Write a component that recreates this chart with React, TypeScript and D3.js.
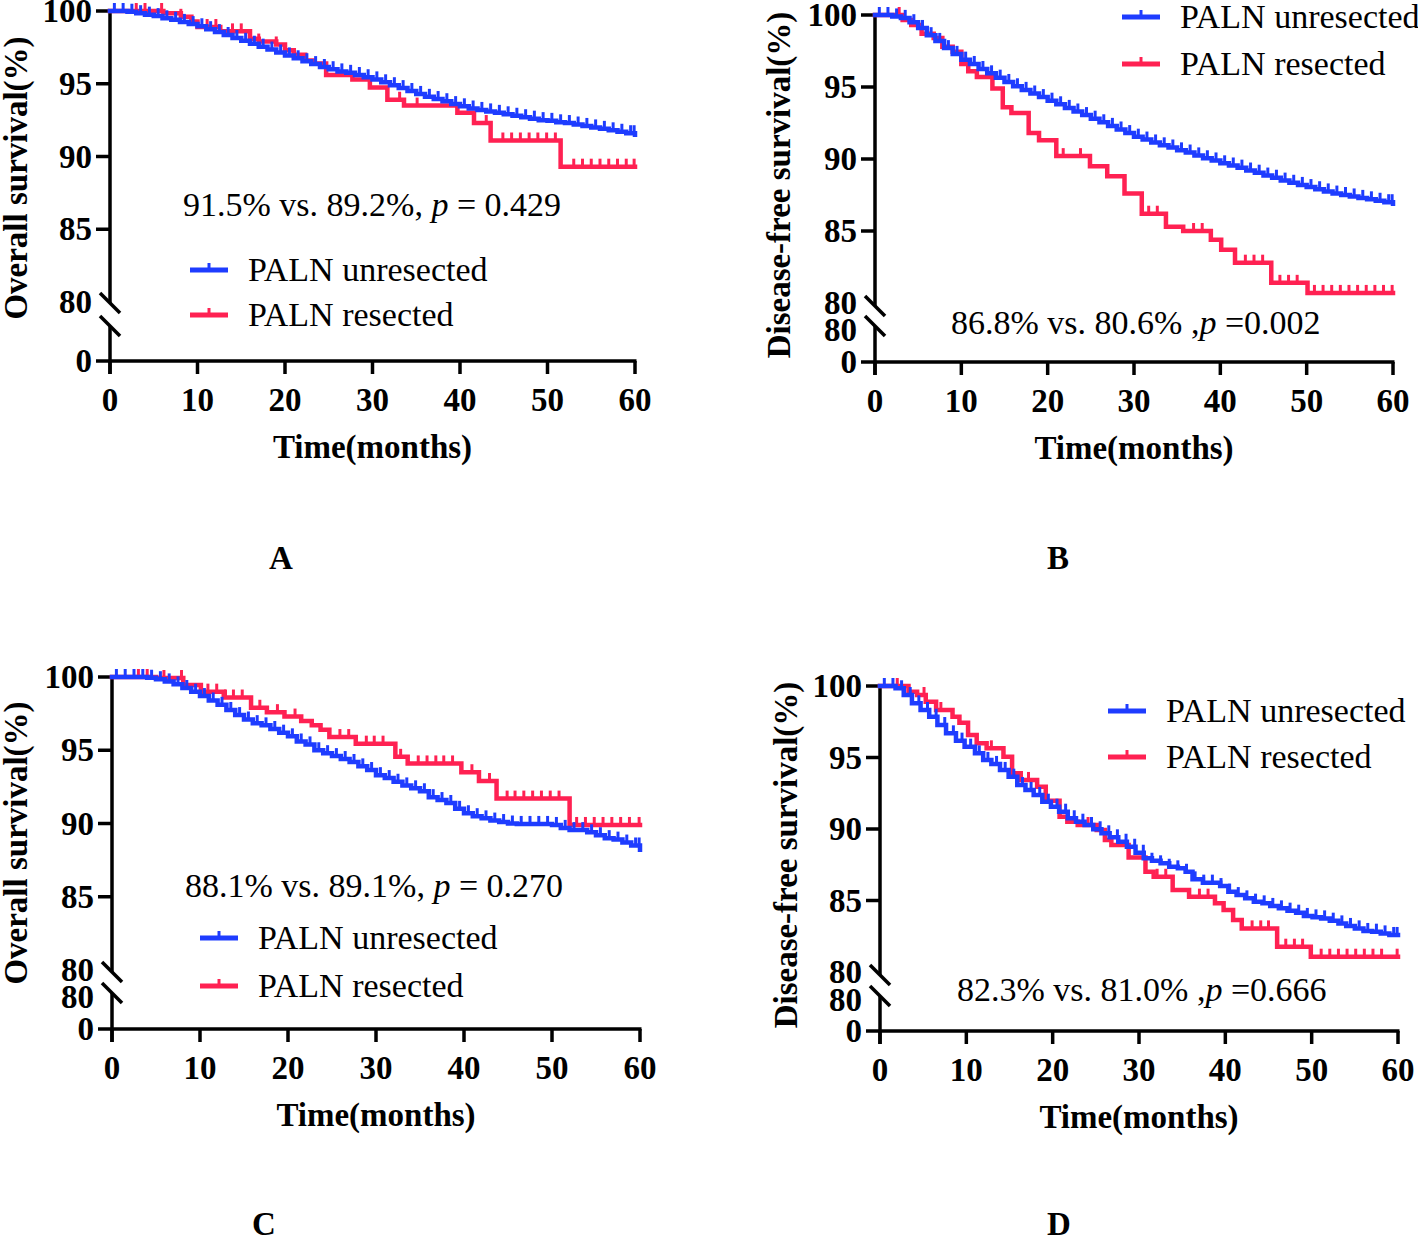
import React from "react";
import * as d3 from "d3";

// ---------- data ----------
const months = [0,1,2,3,4,5,6,7,8,9,10,11,12,13,14,15,16,17,18,19,20,21,22,23,24,25,26,27,28,29,30,31,32,33,34,35,36,37,38,39,40,41,42,43,44,45,46,47,48,49,50,51,52,53,54,55,56,57,58,59,60];
const monthlyCensor = [0.5,1.5,2.5,3.5,4.5,5.5,6.5,7.5,8.5,9.5,10.5,11.5,12.5,13.5,14.5,15.5,16.5,17.5,18.5,19.5,20.5,21.5,22.5,23.5,24.5,25.5,26.5,27.5,28.5,29.5,30.5,31.5,32.5,33.5,34.5,35.5,36.5,37.5,38.5,39.5,40.5,41.5,42.5,43.5,44.5,45.5,46.5,47.5,48.5,49.5,50.5,51.5,52.5,53.5,54.5,55.5,56.5,57.5,58.5,59.5,59.9];
const xTicks = [0,10,20,30,40,50,60];
const yTicksUpper = [100,95,90,85];

// Panel A — overall survival
const blueA = [100,100,99.95,99.85,99.75,99.65,99.5,99.4,99.25,99.1,
  98.95,98.75,98.55,98.35,98.15,97.95,97.75,97.55,97.35,97.15,
  96.95,96.75,96.55,96.35,96.15,96.0,95.85,95.75,95.6,95.45,
  95.3,95.1,94.9,94.7,94.5,94.3,94.1,93.95,93.8,93.6,
  93.45,93.3,93.2,93.1,93.0,92.9,92.8,92.7,92.6,92.5,
  92.45,92.35,92.3,92.2,92.1,92.0,91.9,91.8,91.7,91.6,91.5];
const redATimes = [0,6.1,8.1,9.3,10,12.6,16,17,19,20,21,22.3,23.3,24.7,27.7,29.7,31.7,33.6,39.7,41.6,43.5,51.5];
const redAValues = [100,99.84,99.6,99.27,98.9,98.6,98.1,97.9,97.7,97.3,97.0,96.6,96.4,95.6,95.3,94.75,93.9,93.5,93.0,92.3,91.1,89.3];
const redACensor = [3,4,5.9,8.1,11.1,12.1,14,15,17,19,33.1,35.1,43,44.9,45.9,46.9,47.9,48.9,49.9,50.9,53,54,55,56,57,58,59,59.9];

// Panel B — disease-free survival
const blueB = [100,100,99.9,99.8,99.5,99.1,98.6,98.2,97.7,97.3,
  96.9,96.6,96.25,95.95,95.65,95.35,95.05,94.8,94.55,94.3,
  94.05,93.8,93.55,93.3,93.05,92.8,92.55,92.3,92.05,91.8,
  91.55,91.35,91.15,90.95,90.8,90.6,90.45,90.25,90.05,89.9,
  89.7,89.55,89.4,89.2,89.05,88.85,88.7,88.5,88.35,88.2,
  88.05,87.9,87.75,87.6,87.5,87.4,87.3,87.2,87.1,87.0,86.9];
const redBTimes = [0,3.2,4.2,5.4,6.8,7.8,9.0,10.0,10.8,11.8,13.6,14.8,15.8,17.8,19.0,21.0,24.9,26.9,28.9,30.9,33.7,35.7,38.9,40.1,41.7,45.9,50.1];
const redBValues = [100,99.65,99.3,98.7,98.4,97.8,97.45,96.6,96.1,95.7,94.9,93.6,93.2,91.8,91.3,90.2,89.5,88.8,87.6,86.2,85.3,85.0,84.4,83.7,82.8,81.4,80.7];
const redBCensor = [2.8,21.8,23.8,26.9,31.7,32.7,36.9,37.9,42.9,43.9,44.9,46.9,47.9,48.9,50.9,51.9,52.9,53.9,54.9,55.9,56.9,57.9,58.9,59.9];

// Panel C — overall survival
const blueC = [100,100,100,100,99.95,99.85,99.7,99.5,99.25,99.0,
  98.7,98.4,98.1,97.75,97.4,97.1,96.85,96.7,96.45,96.2,
  95.95,95.6,95.4,95.0,94.8,94.6,94.4,94.2,93.9,93.65,
  93.3,93.1,92.85,92.6,92.4,92.2,91.8,91.6,91.4,91.0,
  90.7,90.5,90.35,90.2,90.1,90.0,89.97,89.97,89.97,89.97,
  89.9,89.7,89.55,89.55,89.4,89.2,89.0,88.9,88.7,88.5,88.2];
const redCTimes = [0,5.0,8.1,10.1,12.7,15.8,17.6,19.6,21.5,22.7,23.7,24.7,27.7,32.2,33.6,39.7,41.7,43.7,52.0];
const redCValues = [100,99.93,99.45,99.0,98.6,97.9,97.6,97.3,97.0,96.7,96.4,95.9,95.45,94.55,94.1,93.5,92.9,91.7,89.9];
const redCCensor = [3,4,5.9,7.9,10.9,11.9,12.9,13.8,14.8,16.8,18.8,20.8,25.9,26.9,28.9,29.8,30.8,32.8,34.8,35.8,36.8,37.7,38.7,40.9,42.9,44.9,45.8,46.8,47.8,48.8,49.8,50.8,52.8,53.8,54.8,55.8,56.8,57.8,58.8,59.9];

// Panel D — disease-free survival
const blueDTimes = [0,1.8,2.75,3.7,4.7,5.7,6.65,7.65,8.8,9.8,11.0,11.95,12.9,13.9,14.9,15.9,16.85,17.8,18.8,19.8,20.75,21.75,22.7,23.7,24.7,25.65,26.6,27.6,28.6,29.6,30.55,31.5,32.5,33.5,34.5,35.4,36.2,37.4,39.4,40.35,41.3,42.3,43.3,44.3,45.2,46.2,47.2,48.2,49.1,50.1,51.1,52.1,53.1,54.0,55.0,56.0,57.0,58.0,59.0];
const blueDValues = [100,99.84,99.37,98.79,98.32,97.85,97.27,96.69,96.18,95.76,95.29,94.83,94.55,94.13,93.66,93.08,92.73,92.38,91.91,91.56,91.21,90.75,90.51,90.28,89.98,89.7,89.42,89.11,88.76,88.34,87.95,87.78,87.6,87.36,87.25,87.01,86.48,86.25,86.01,85.62,85.38,85.15,84.92,84.8,84.62,84.45,84.29,84.15,83.92,83.82,83.75,83.59,83.4,83.22,83.05,82.87,82.82,82.7,82.59];
const redDTimes = [0,3.3,4.3,5.3,6.5,8.4,9.2,10.2,11.2,12.35,14.3,15.3,16.3,18.2,19.2,20.8,21.7,22.9,25.1,26.05,26.8,28.8,30.75,31.7,33.9,35.8,38.8,39.8,40.9,41.9,46.0,49.9];
const redDValues = [100,99.6,99.37,98.9,98.32,97.85,97.43,96.57,95.99,95.64,95.06,93.9,93.43,92.96,91.98,90.86,90.51,90.28,89.93,89.23,88.88,88.0,87.01,86.66,85.73,85.27,84.8,84.34,83.64,83.05,81.77,81.07];
const redDCensor = [2,5.1,7.05,12.9,17.2,24.1,32.1,33.1,37,38,43.1,44.1,45,47,48,48.95,51.1,52.1,53.1,54.1,55.1,56.1,57.1,58.1,59.9];

const seriesNames = ["PALN unresected", "PALN resected"];
const yLabels = ["Overall survival(%)", "Disease-free survival(%)"];
const annotations = [
  ["91.5% vs. 89.2%, ", "p", " = 0.429"],
  ["86.8% vs. 80.6% ,", "p", " =0.002"],
  ["88.1% vs. 89.1%, ", "p", " = 0.270"],
  ["82.3% vs. 81.0% ,", "p", " =0.666"],
];
const panelLetters = ["A", "B", "C", "D"];

// ---------- styling ----------
const BLUE = "#1e3cff";
const RED = "#ff2152";
const FONT = "'Liberation Serif','Times New Roman',Times,serif";
const FS = 33;
const FS_NORMAL = 34;

type Curve = { times: number[]; values: number[]; censor: number[]; color: string };

const valueAt = (c: Curve, t: number) => {
  let v = c.values[0];
  for (let i = 0; i < c.times.length; i++) if (c.times[i] <= t) v = c.values[i];
  return v;
};

function Panel(props: any) {
  const L = props.L;
  const x = d3.scaleLinear().domain([0, 60]).range([L.x0, L.x1]);
  const yU = d3.scaleLinear().domain([80, 100]).range([L.y80, L.yTop]);
  const yLow = d3.scaleLinear().domain([0, 80]).range([L.yZero, L.lower80 ?? L.slashL]);
  const line = d3
    .line<[number, number]>()
    .x((d) => x(d[0]))
    .y((d) => yU(d[1]))
    .curve(d3.curveStepAfter);
  const curves: Curve[] = props.curves;
  const pts = (c: Curve): [number, number][] => {
    const n = Math.min(c.times.length, c.values.length);
    const p: [number, number][] = [];
    for (let i = 0; i < n; i++) p.push([c.times[i], c.values[i]]);
    p.push([60, c.values[n - 1]]);
    return p;
  };
  const ax = { stroke: "#000", strokeWidth: 3.5, fill: "none" };
  const bold = { fontFamily: FONT, fontWeight: 700, fontSize: FS, fill: "#000" } as any;
  const normal = { fontFamily: FONT, fontSize: FS_NORMAL, fill: "#000" } as any;
  const ann = props.ann;
  return (
    <g>
      {/* y axis upper */}
      <line x1={L.x0} x2={L.x0} y1={L.yTop - 1.5} y2={L.slashU} {...ax} />
      <line x1={L.x0 - 10} x2={L.x0 + 10} y1={L.slashU - 10} y2={L.slashU + 10} {...ax} />
      <line x1={L.x0 - 10} x2={L.x0 + 10} y1={L.slashL - 10} y2={L.slashL + 10} {...ax} />
      <line x1={L.x0} x2={L.x0} y1={L.slashL} y2={L.yZero + 13} {...ax} />
      {/* x axis */}
      <line x1={L.x0 - 14} x2={L.x1 + 1.5} y1={L.yZero} y2={L.yZero} {...ax} />
      {yTicksUpper.map((v) => (
        <g key={v}>
          <line x1={L.x0 - 14} x2={L.x0} y1={yU(v)} y2={yU(v)} {...ax} />
          <text x={L.x0 - 18} y={yU(v) + 11} textAnchor="end" style={bold}>{v}</text>
        </g>
      ))}
      <text x={L.x0 - 18} y={yU(80) + 11} textAnchor="end" style={bold}>80</text>
      {L.lower80 != null && (
        <text x={L.x0 - 18} y={yLow(80) + 11} textAnchor="end" style={bold}>80</text>
      )}
      <text x={L.x0 - 18} y={yLow(0) + 11} textAnchor="end" style={bold}>0</text>
      {xTicks.map((t) => (
        <g key={t}>
          <line x1={x(t)} x2={x(t)} y1={L.yZero} y2={L.yZero + 13} {...ax} />
          <text x={x(t)} y={L.yZero + 50} textAnchor="middle" style={bold}>{t}</text>
        </g>
      ))}
      <text x={(L.x0 + L.x1) / 2} y={L.yZero + 97} textAnchor="middle" style={bold}>Time(months)</text>
      <text transform={`translate(${L.yLabelX},${L.yLabelY}) rotate(-90)`} textAnchor="middle" style={bold}>
        {props.yLabel}
      </text>
      <text x={L.letterX} y={L.letterY} textAnchor="middle" style={bold}>{props.letter}</text>

      {/* curves: red below, blue on top */}
      {[curves[1], curves[0]].map((c, ci) => (
        <g key={ci}>
          <path d={line(pts(c)) || ""} fill="none" stroke={c.color} strokeWidth={4.5} strokeLinejoin="miter" strokeLinecap="square" />
          {c.censor.map((t, i) => {
            const yy = yU(valueAt(c, t));
            return <line key={i} x1={x(t)} x2={x(t)} y1={yy} y2={yy - 8} stroke={c.color} strokeWidth={3} />;
          })}
        </g>
      ))}

      {/* legend */}
      {[0, 1].map((i) => {
        const ly = i === 0 ? L.legY1 : L.legY2;
        const col = i === 0 ? BLUE : RED;
        return (
          <g key={i}>
            <line x1={L.legX} x2={L.legX + 38} y1={ly} y2={ly} stroke={col} strokeWidth={5} />
            <line x1={L.legX + 19} x2={L.legX + 19} y1={ly} y2={ly - 7} stroke={col} strokeWidth={3} />
            <text x={L.legX + 58} y={ly + 11} style={normal}>{seriesNames[i]}</text>
          </g>
        );
      })}

      {/* annotation */}
      <text x={L.annX} y={L.annY} style={normal}>
        {ann[0]}
        <tspan fontStyle="italic">{ann[1]}</tspan>
        {ann[2]}
      </text>
    </g>
  );
}

const layouts = [
  { x0: 110, x1: 635, yTop: 11, y80: 302, slashU: 303, slashL: 326, yZero: 361, lower80: null,
    yLabelX: 27, yLabelY: 178, letterX: 281, letterY: 569, legX: 190, legY1: 270, legY2: 315, annX: 183, annY: 216 },
  { x0: 875, x1: 1393, yTop: 15, y80: 303, slashU: 306, slashL: 326, yZero: 362, lower80: 330,
    yLabelX: 790, yLabelY: 185, letterX: 1058, letterY: 569, legX: 1122, legY1: 17, legY2: 64, annX: 951, annY: 334 },
  { x0: 112, x1: 640, yTop: 677, y80: 970, slashU: 972, slashL: 993, yZero: 1029, lower80: 997,
    yLabelX: 27, yLabelY: 843, letterX: 264, letterY: 1235, legX: 200, legY1: 938, legY2: 986, annX: 185, annY: 897 },
  { x0: 880, x1: 1398, yTop: 686, y80: 972, slashU: 975, slashL: 996, yZero: 1031, lower80: 1000,
    yLabelX: 797, yLabelY: 855, letterX: 1059, letterY: 1235, legX: 1108, legY1: 711, legY2: 757, annX: 957, annY: 1001 },
];

export default function App() {
  const panels: Curve[][] = [
    [
      { times: months, values: blueA, censor: monthlyCensor, color: BLUE },
      { times: redATimes, values: redAValues, censor: redACensor, color: RED },
    ],
    [
      { times: months, values: blueB, censor: monthlyCensor, color: BLUE },
      { times: redBTimes, values: redBValues, censor: redBCensor, color: RED },
    ],
    [
      { times: months, values: blueC, censor: monthlyCensor, color: BLUE },
      { times: redCTimes, values: redCValues, censor: redCCensor, color: RED },
    ],
    [
      { times: blueDTimes, values: blueDValues, censor: monthlyCensor, color: BLUE },
      { times: redDTimes, values: redDValues, censor: redDCensor, color: RED },
    ],
  ];
  return (
    <svg
      width={1418}
      height={1237}
      viewBox="0 0 1418 1237"
      style={{ position: "absolute", left: 0, top: 0, background: "#fff" }}
    >
      <rect x={0} y={0} width={1418} height={1237} fill="#fff" />
      {panels.map((curves, i) => (
        <Panel
          key={i}
          L={layouts[i]}
          curves={curves}
          yLabel={yLabels[i % 2]}
          letter={panelLetters[i]}
          ann={annotations[i]}
        />
      ))}
    </svg>
  );
}
